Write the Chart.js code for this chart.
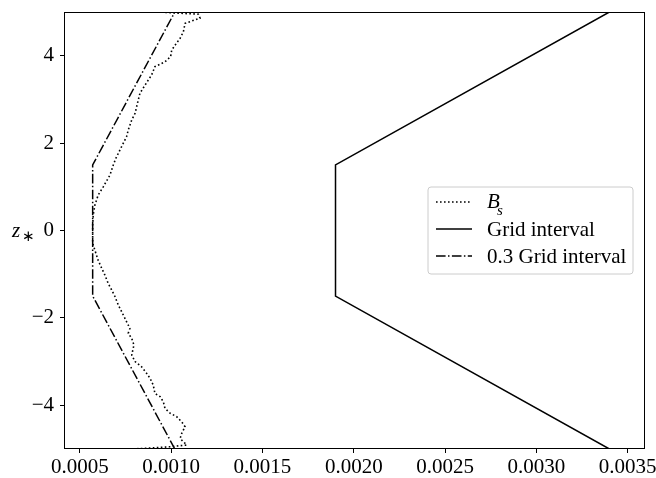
<!DOCTYPE html>
<html>
<head>
<meta charset="utf-8">
<script src="https://cdn.jsdelivr.net/npm/chart.js@4.4.1/dist/chart.umd.min.js"></script>
<style>
  html, body { margin: 0; padding: 0; background: #fff; }
  #wrap { width: 656px; height: 478px; position: relative; }
</style>
</head>
<body>
<div id="wrap"><canvas id="profile"></canvas></div>
<script>
// axis ticks
const xTicks = [0.0005, 0.0010, 0.0015, 0.0020, 0.0025, 0.0030, 0.0035];
const yTicks = [-4, -2, 0, 2, 4];

// grid spacing profiles
const gridZ = [-5, -1.5, 1.5, 5];
const gridInterval = [0.00340, 0.00190, 0.00190, 0.00340];
const gridInterval03 = [0.00102, 0.00057, 0.00057, 0.00102];

// B_s profile
const bsZ = [
  -5.00, -4.95, -4.91, -4.87, -4.76, -4.64, -4.49, -4.38, -4.26, -4.18,
  -4.07, -3.92, -3.80, -3.73, -3.54, -3.38, -3.27, -3.12, -3.00, -2.85,
  -2.62, -2.47, -2.35, -2.24, -2.09, -1.86, -1.70, -1.51, -1.36, -1.21,
  -1.02, -0.86, -0.68, -0.45, -0.29, -0.06, 0.13, 0.35, 0.58, 0.81,
  1.00, 1.27, 1.50, 1.65, 1.84, 2.00, 2.15, 2.30, 2.53, 2.68,
  2.99, 3.14, 3.38, 3.56, 3.75, 3.86, 3.98, 4.13, 4.24, 4.40,
  4.55, 4.74, 4.86, 4.95, 5.00
];
const bsValues = [
  0.000790, 0.000990, 0.001085, 0.001076, 0.001049, 0.001058, 0.001076, 0.001058, 0.001030, 0.000994,
  0.000966, 0.000957, 0.000939, 0.000911, 0.000902, 0.000884, 0.000866, 0.000838, 0.000802, 0.000784,
  0.000796, 0.000784, 0.000765, 0.000774, 0.000756, 0.000729, 0.000710, 0.000692, 0.000674, 0.000655,
  0.000637, 0.000619, 0.000600, 0.000582, 0.000570, 0.000570, 0.000570, 0.000573, 0.000582, 0.000600,
  0.000628, 0.000665, 0.000683, 0.000697, 0.000719, 0.000738, 0.000756, 0.000765, 0.000784, 0.000802,
  0.000820, 0.000829, 0.000865, 0.000893, 0.000911, 0.000966, 0.000997, 0.001003, 0.001021, 0.001049,
  0.001067, 0.001076, 0.001158, 0.001149, 0.000921
];

const FONT = '"Liberation Serif", "Times New Roman", serif';
const pairs = (xs, zs) => xs.map((v, i) => ({ x: v, y: zs[i] }));

const frameAndLegend = {
  id: 'frameAndLegend',
  afterDatasetsDraw(chart) {
    const { ctx, chartArea: a } = chart;
    ctx.save();
    ctx.strokeStyle = '#000';
    ctx.lineWidth = 1;
    ctx.strokeRect(a.left + 0.5, a.top + 0.5, a.right - a.left - 1, a.bottom - a.top - 1);
    ctx.restore();
  },
  afterDraw(chart) {
    const ctx = chart.ctx;
    ctx.save();

    // y axis label z_*
    ctx.fillStyle = '#000';
    ctx.textBaseline = 'alphabetic';
    ctx.font = 'italic 21px ' + FONT;
    ctx.fillText('z', 12, 237);
    ctx.font = '15px "DejaVu Sans", sans-serif';
    ctx.fillText('\u2217', 22, 241);

    // legend box
    const bx = 428, by = 187, bw = 205, bh = 87, r = 3;
    ctx.beginPath();
    ctx.moveTo(bx + r, by);
    ctx.arcTo(bx + bw, by, bx + bw, by + bh, r);
    ctx.arcTo(bx + bw, by + bh, bx, by + bh, r);
    ctx.arcTo(bx, by + bh, bx, by, r);
    ctx.arcTo(bx, by, bx + bw, by, r);
    ctx.closePath();
    ctx.fillStyle = 'rgba(255,255,255,0.8)';
    ctx.fill();
    ctx.strokeStyle = '#cccccc';
    ctx.lineWidth = 1;
    ctx.stroke();

    const rows = [202, 229, 256];
    chart.data.datasets.forEach((ds, i) => {
      const y = rows[i];
      ctx.beginPath();
      ctx.setLineDash(ds.borderDash || []);
      ctx.lineWidth = ds.borderWidth;
      ctx.strokeStyle = ds.borderColor;
      ctx.moveTo(436, y);
      ctx.lineTo(472, y);
      ctx.stroke();
      ctx.setLineDash([]);
      ctx.fillStyle = '#000';
      ctx.textBaseline = 'middle';
      if (i === 0) {
        ctx.font = 'italic 21px ' + FONT;
        ctx.fillText('B', 487, y);
        ctx.font = 'italic 15px ' + FONT;
        ctx.fillText('s', 497, y + 9);
      } else {
        ctx.font = '21px ' + FONT;
        ctx.fillText(ds.label, 487, y + 1);
      }
    });
    ctx.restore();
  }
};

const tickFont = { family: FONT, size: 21 };

new Chart(document.getElementById('profile'), {
  type: 'scatter',
  data: {
    datasets: [
      {
        label: 'B_s',
        data: pairs(bsValues, bsZ),
        showLine: true,
        borderColor: '#000',
        borderWidth: 1.6,
        borderDash: [1.6, 2.4],
        pointRadius: 0
      },
      {
        label: 'Grid interval',
        data: pairs(gridInterval, gridZ),
        showLine: true,
        borderColor: '#000',
        borderWidth: 1.5,
        pointRadius: 0
      },
      {
        label: '0.3 Grid interval',
        data: pairs(gridInterval03, gridZ),
        showLine: true,
        borderColor: '#000',
        borderWidth: 1.5,
        borderDash: [9.6, 2.4, 1.5, 2.4],
        pointRadius: 0
      }
    ]
  },
  options: {
    responsive: true,
    maintainAspectRatio: false,
    animation: false,
    layout: { padding: { top: 12, right: 11, left: 0, bottom: 0 } },
    plugins: { legend: { display: false }, tooltip: { enabled: false } },
    scales: {
      x: {
        type: 'linear',
        min: 0.000413,
        max: 0.003595,
        border: { display: false },
        grid: { drawOnChartArea: false, drawTicks: true, tickLength: 4, tickColor: '#000', tickWidth: 1 },
        ticks: {
          color: '#000', font: tickFont, padding: 2, maxRotation: 0, autoSkip: false,
          callback: v => v.toFixed(4)
        },
        afterBuildTicks: s => { s.ticks = xTicks.map(v => ({ value: v })); },
        afterFit: s => { s.height = 29; s.paddingLeft = 0; s.paddingRight = 0; }
      },
      y: {
        type: 'linear',
        min: -5,
        max: 5,
        border: { display: false },
        grid: { drawOnChartArea: false, drawTicks: true, tickLength: 4, tickColor: '#000', tickWidth: 1 },
        ticks: {
          color: '#000', font: tickFont, padding: 6, autoSkip: false,
          callback: v => (v < 0 ? '\u2212' + Math.abs(v) : String(v))
        },
        afterBuildTicks: s => { s.ticks = yTicks.map(v => ({ value: v })); },
        afterFit: s => { s.width = 64; s.paddingTop = 0; s.paddingBottom = 0; }
      }
    }
  },
  plugins: [frameAndLegend]
});
</script>
</body>
</html>
